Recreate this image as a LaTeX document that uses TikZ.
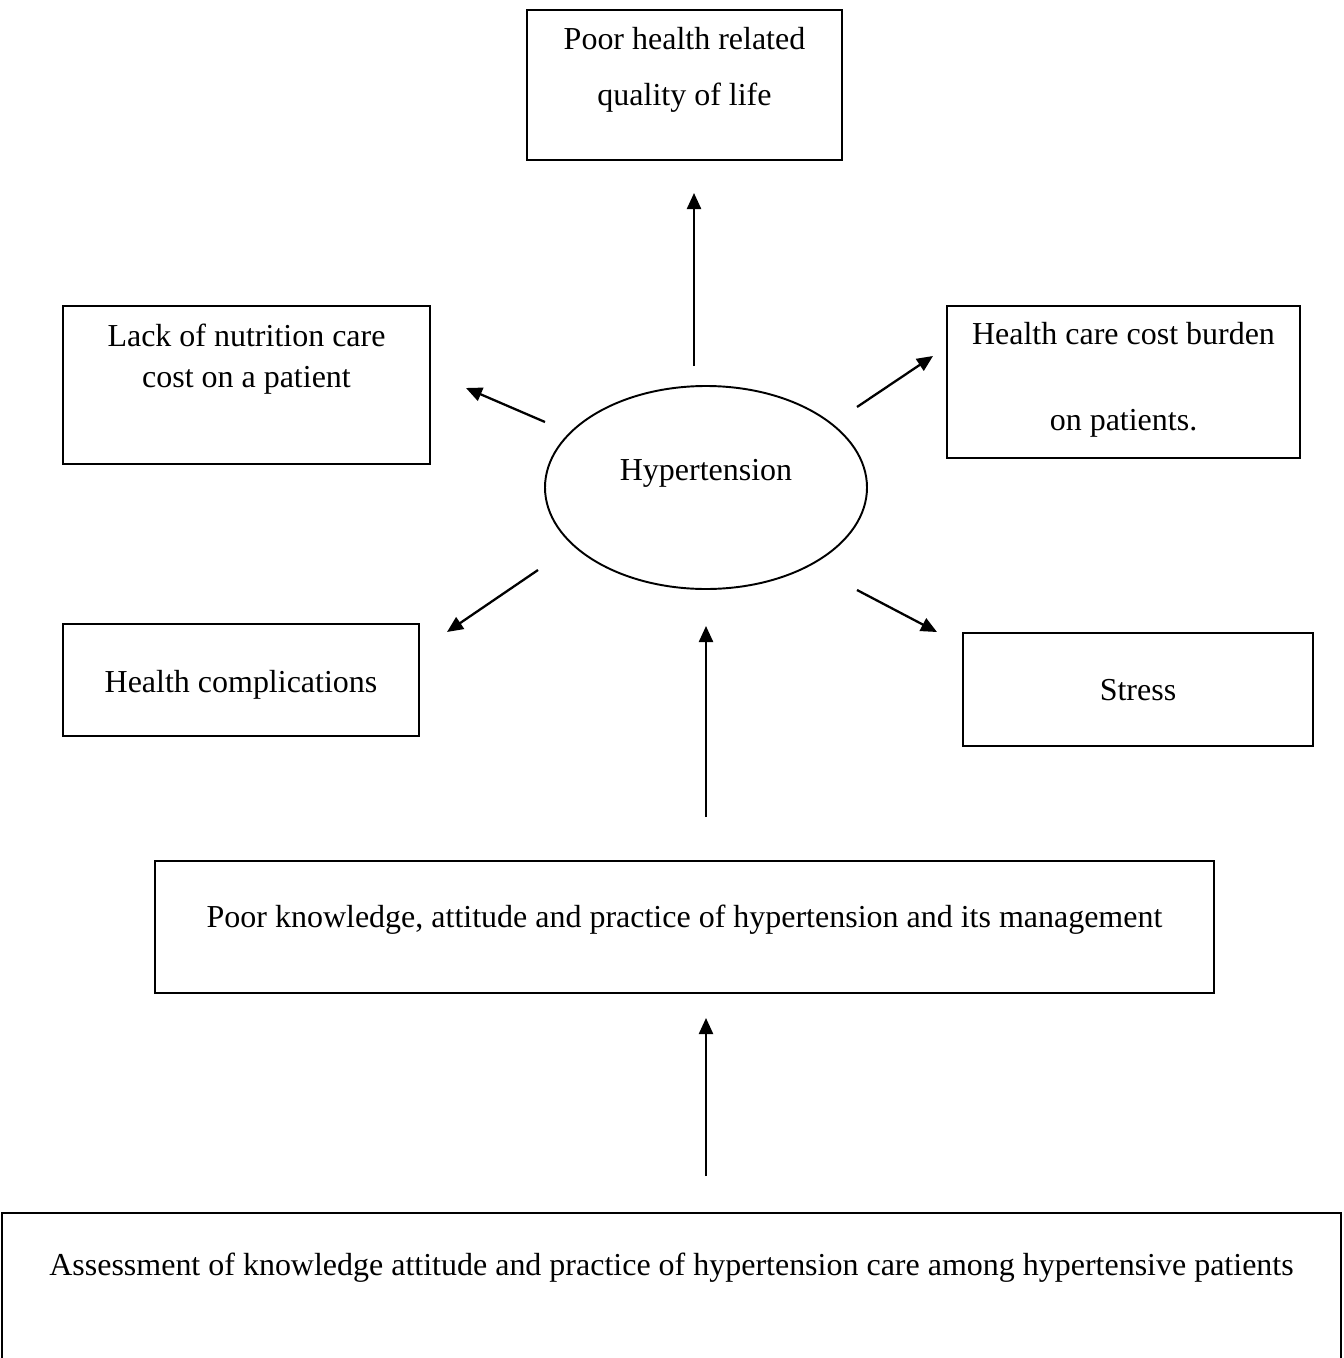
\documentclass[tikz,border=0pt]{standalone}
\usepackage{fontspec}
\setmainfont{Liberation Serif}
\usepackage{tikz}
\usetikzlibrary{shapes.geometric, arrows.meta, positioning, calc}
\definecolor{primary}{HTML}{000000}

\begin{document}
\begin{tikzpicture}[
    font=\fontsize{18.2}{21.8}\selectfont,
    box/.style={rectangle, draw=primary, line width=1.1pt, inner sep=0pt},
    hypbox/.style={ellipse, draw=primary, line width=1.1pt, minimum width=6.44cm, minimum height=4.06cm, inner sep=0pt},
    txt/.style={anchor=base, align=center, inner sep=0pt},
    arrow/.style={-{Triangle[length=3.2mm, width=2.8mm]}, line width=1.3pt, color=primary}
]
    \useasboundingbox (0,0) rectangle (26.88,-27.16);
    \clip (0,0) rectangle (26.88,-27.16);

    % boxes
    \node[box, minimum width=6.30cm, minimum height=3.00cm] (qol) at (13.69,-1.70) {};
    \node[box, minimum width=7.34cm, minimum height=3.16cm] (nutri) at (4.93,-7.70) {};
    \node[box, minimum width=7.06cm, minimum height=3.04cm] (cost) at (22.47,-7.64) {};
    \node[box, minimum width=7.12cm, minimum height=2.24cm] (compl) at (4.82,-13.60) {};
    \node[box, minimum width=7.00cm, minimum height=2.26cm] (stress) at (22.76,-13.79) {};
    \node[hypbox] (hyp) at (14.12,-9.75) {};
    \node[box, minimum width=21.18cm, minimum height=2.64cm] (kap) at (13.69,-18.54) {};
    \node[box, minimum width=26.78cm, minimum height=4.14cm] (assess) at (13.43,-26.33) {};

    % texts (base = last line)
    \node[txt] (qoltext) at (13.69,-2.10) {Poor health related\\[0.34cm]quality of life};
    \node[txt] (nutritext) at (4.93,-7.74) {Lack of nutrition care\\[0.04cm]cost on a patient};
    \node[txt] (costtext) at (22.47,-8.60) {Health care cost burden\\[0.94cm]on patients.};
    \node[txt] (compltext) at (4.82,-13.84) {Health complications};
    \node[txt] (stresstext) at (22.76,-14.00) {Stress};
    \node[txt] (hyptext) at (14.12,-9.60) {Hypertension};
    \node[txt] (kaptext) at (13.69,-18.54) {Poor knowledge, attitude and practice of hypertension and its management};
    \node[txt] (assesstext) at (13.43,-25.50) {Assessment of knowledge attitude and practice of hypertension care among hypertensive patients};

    % arrow ends
    \coordinate (qolS) at (13.88,-7.32);    \coordinate (qolE) at (13.88,-3.86);
    \coordinate (nutriS) at (10.90,-8.44);  \coordinate (nutriE) at (9.32,-7.76);
    \coordinate (costS) at (17.14,-8.14);   \coordinate (costE) at (18.66,-7.12);
    \coordinate (complS) at (10.76,-11.40); \coordinate (complE) at (8.94,-12.64);
    \coordinate (stressS) at (17.14,-11.80);\coordinate (stressE) at (18.74,-12.64);
    \coordinate (kapS) at (14.12,-16.34);   \coordinate (kapE) at (14.12,-12.52);
    \coordinate (assessS) at (14.12,-23.52);\coordinate (assessE) at (14.12,-20.36);

    \draw[arrow] (qolS) -- (qolE);
    \draw[arrow] (nutriS) -- (nutriE);
    \draw[arrow] (costS) -- (costE);
    \draw[arrow] (complS) -- (complE);
    \draw[arrow] (stressS) -- (stressE);
    \draw[arrow] (kapS) -- (kapE);
    \draw[arrow] (assessS) -- (assessE);
\end{tikzpicture}
\end{document}
